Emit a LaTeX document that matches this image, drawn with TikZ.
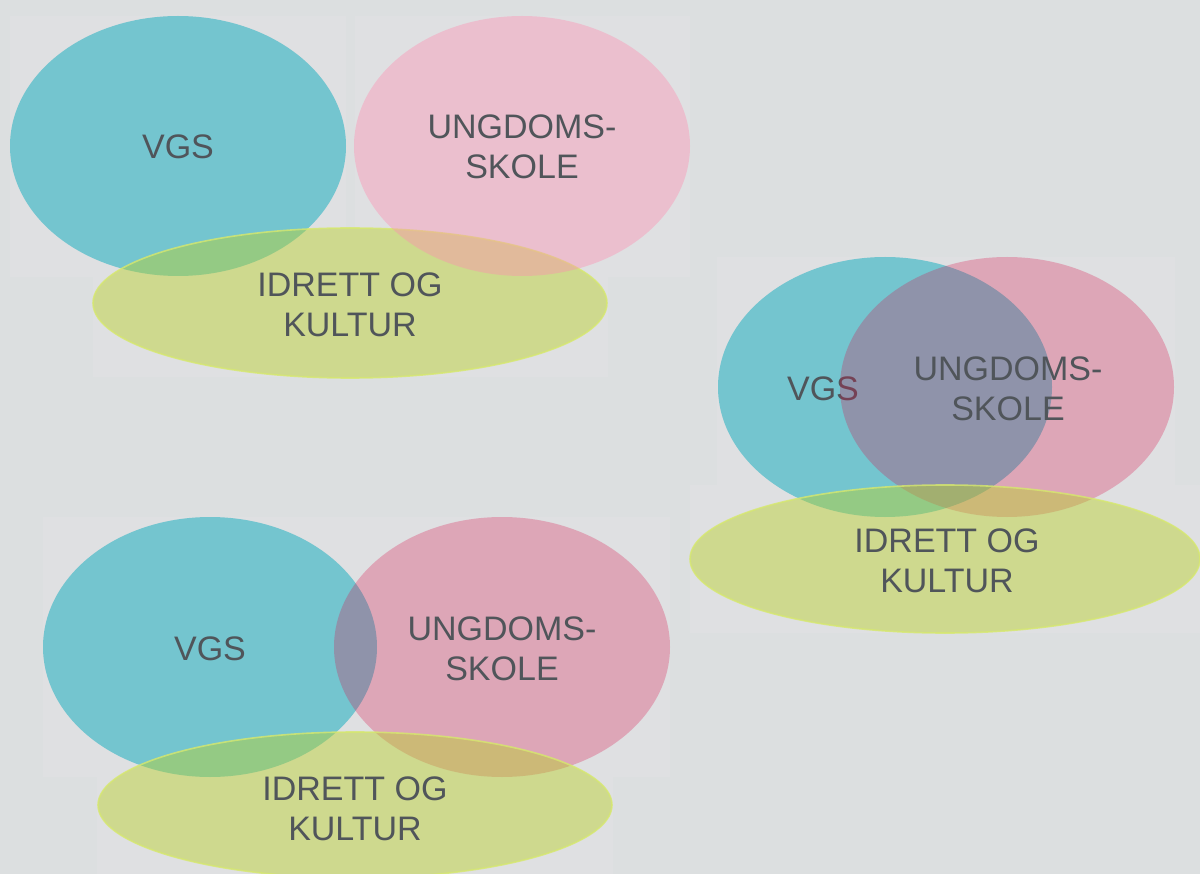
\documentclass[tikz,border=0pt]{standalone}
\usepackage{fontspec}
\setmainfont{Liberation Sans}
\definecolor{bgcol}{RGB}{220,223,224}
\definecolor{rectcol}{RGB}{223,224,226}
\definecolor{cyancol}{RGB}{116,197,207}
\definecolor{pinkA}{RGB}{255,139,177}
\definecolor{pinkB}{RGB}{216,19,75}
\definecolor{yelcol}{RGB}{186,209,45}
\definecolor{yelline}{RGB}{214,232,110}
\definecolor{txtcol}{RGB}{80,85,90}
\begin{document}
\begin{tikzpicture}[x=1pt,y=-1pt,
  backrect/.style={fill=rectcol},
  cyanell/.style={fill=cyancol},
  pinklight/.style={fill=pinkA,fill opacity=0.39},
  pinkdeep/.style={fill=pinkB,fill opacity=0.28},
  yelell/.style={fill=yelcol,fill opacity=0.46,draw=yelline,draw opacity=0.8,line width=1.6pt},
  lbl/.style={text=txtcol,font=\fontsize{34}{40}\selectfont,align=center,inner sep=0pt}]
\useasboundingbox (0,0) rectangle (1200,874);
\fill[bgcol] (0,0) rectangle (1200,874);
% background rectangles
\fill[backrect] (10,16) rectangle (346,277);
\fill[backrect] (355,16) rectangle (690,277);
\fill[backrect] (93,228) rectangle (608,377);
\fill[backrect] (717,257) rectangle (1052,485);
\fill[backrect] (840,257) rectangle (1175,517);
\fill[backrect] (690,485) rectangle (1200,633);
\fill[backrect] (43,517) rectangle (378,777);
\fill[backrect] (335,517) rectangle (670,777);
\fill[backrect] (97,732) rectangle (613,874);
% group 1
\fill[cyanell] (178,146) ellipse [x radius=168pt, y radius=130pt];
\path[yelell] (350,303) ellipse [x radius=257pt, y radius=75pt];
\fill[pinklight] (522,146) ellipse [x radius=168pt, y radius=130pt];
\node[lbl] (v1) at (178,147) {VGS};
\node[lbl] (u1) at (522,147) {UNGDOMS-\\SKOLE};
\node[lbl] (i1) at (350,305) {IDRETT OG\\KULTUR};
% group 2
\fill[cyanell] (885,387) ellipse [x radius=167pt, y radius=130pt];
\node[lbl] (v2) at (823,389) {VGS};
\fill[pinkdeep] (1007,387) ellipse [x radius=167pt, y radius=130pt];
\path[yelell] (945,559) ellipse [x radius=255pt, y radius=74pt];
\node[lbl] (u2) at (1008,389) {UNGDOMS-\\SKOLE};
\node[lbl] (i2) at (947,561) {IDRETT OG\\KULTUR};
% group 3
\fill[cyanell] (210,647) ellipse [x radius=167pt, y radius=130pt];
\fill[pinkdeep] (502,647) ellipse [x radius=168pt, y radius=130pt];
\path[yelell] (355,805) ellipse [x radius=257pt, y radius=73pt];
\node[lbl] (v3) at (210,649) {VGS};
\node[lbl] (u3) at (502,649) {UNGDOMS-\\SKOLE};
\node[lbl] (i3) at (355,809) {IDRETT OG\\KULTUR};
\end{tikzpicture}
\end{document}
